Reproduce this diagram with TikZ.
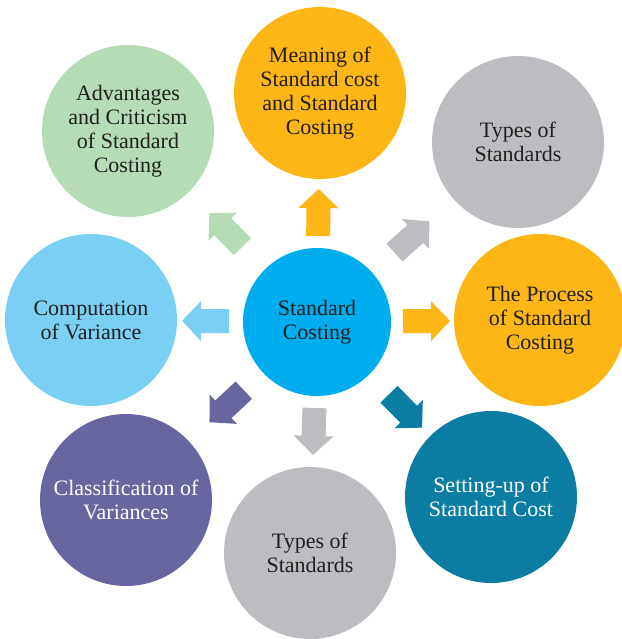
\documentclass[tikz,border=0pt]{standalone}
\usepackage{fontspec}
\setmainfont{Liberation Serif}
\usetikzlibrary{calc}
\definecolor{hubblue}{HTML}{00AEEF}
\definecolor{orangeA}{HTML}{FCB716}
\definecolor{greenA}{HTML}{B5DCB6}
\definecolor{greyA}{HTML}{BCBDC0}
\definecolor{skyA}{HTML}{7ACFF4}
\definecolor{purpleA}{HTML}{6766A0}
\definecolor{tealA}{HTML}{0B7DA3}
\definecolor{inkdark}{HTML}{231F20}
\tikzset{
  topic/.style={circle, minimum size=172pt, inner sep=0pt, align=center, text=inkdark, font=\fontsize{22}{24}\selectfont},
  hub/.style={topic, minimum size=148pt, fill=hubblue},
  blockarrow/.pic={\path[pic actions] (0,-12) -- (28,-12) -- (28,-20) -- (47,0) -- (28,20) -- (28,12) -- (0,12) -- cycle;}
}

\begin{document}
\begin{tikzpicture}[x=1pt,y=-1pt]
      \useasboundingbox (0,0) rectangle (621,639);
      \node [hub] (sc) at (317,322) {Standard\\Costing};
      \node [topic,fill=orangeA] (mean) at (320,93) {Meaning of\\Standard cost\\and Standard\\Costing};
      \node [topic,fill=greyA] (types) at (518,142) {Types of\\Standards};
      \node [topic,fill=orangeA] (proc) at (540,320) {The Process\\of Standard\\Costing};
      \node [topic,fill=tealA,text=white] (setup) at (491,497) {Setting-up of\\Standard Cost};
      \node [topic,fill=greyA] (typesb) at (310,553) {Types of\\Standards};
      \node [topic,fill=purpleA,text=white] (class) at (126,500) {Classification of\\Variances};
      \node [topic,fill=skyA] (comp) at (91,320) {Computation\\of Variance};
      \node [topic,fill=greenA] (adv) at (128,131) {Advantages\\and Criticism\\of Standard\\Costing};
      \path let \p1=($(mean)-(sc)$), \n1={atan2(\y1,\x1)} in ($(sc)!86pt!(mean)$) pic [rotate=\n1,fill=orangeA] {blockarrow};
      \path let \p1=($(types)-(sc)$), \n1={atan2(\y1,\x1)} in ($(sc)!104pt!(types)$) pic [rotate=\n1,fill=greyA] {blockarrow};
      \path let \p1=($(proc)-(sc)$), \n1={atan2(\y1,\x1)} in ($(sc)!86pt!(proc)$) pic [rotate=\n1,fill=orangeA] {blockarrow};
      \path let \p1=($(setup)-(sc)$), \n1={atan2(\y1,\x1)} in ($(sc)!102pt!(setup)$) pic [rotate=\n1,fill=tealA] {blockarrow};
      \path let \p1=($(typesb)-(sc)$), \n1={atan2(\y1,\x1)} in ($(sc)!86pt!(typesb)$) pic [rotate=\n1,fill=greyA] {blockarrow};
      \path let \p1=($(class)-(sc)$), \n1={atan2(\y1,\x1)} in ($(sc)!100pt!(class)$) pic [rotate=\n1,fill=purpleA] {blockarrow};
      \path let \p1=($(comp)-(sc)$), \n1={atan2(\y1,\x1)} in ($(sc)!88pt!(comp)$) pic [rotate=\n1,fill=skyA] {blockarrow};
      \path let \p1=($(adv)-(sc)$), \n1={atan2(\y1,\x1)} in ($(sc)!106pt!(adv)$) pic [rotate=\n1,fill=greenA] {blockarrow};
    \end{tikzpicture}
\end{document}
